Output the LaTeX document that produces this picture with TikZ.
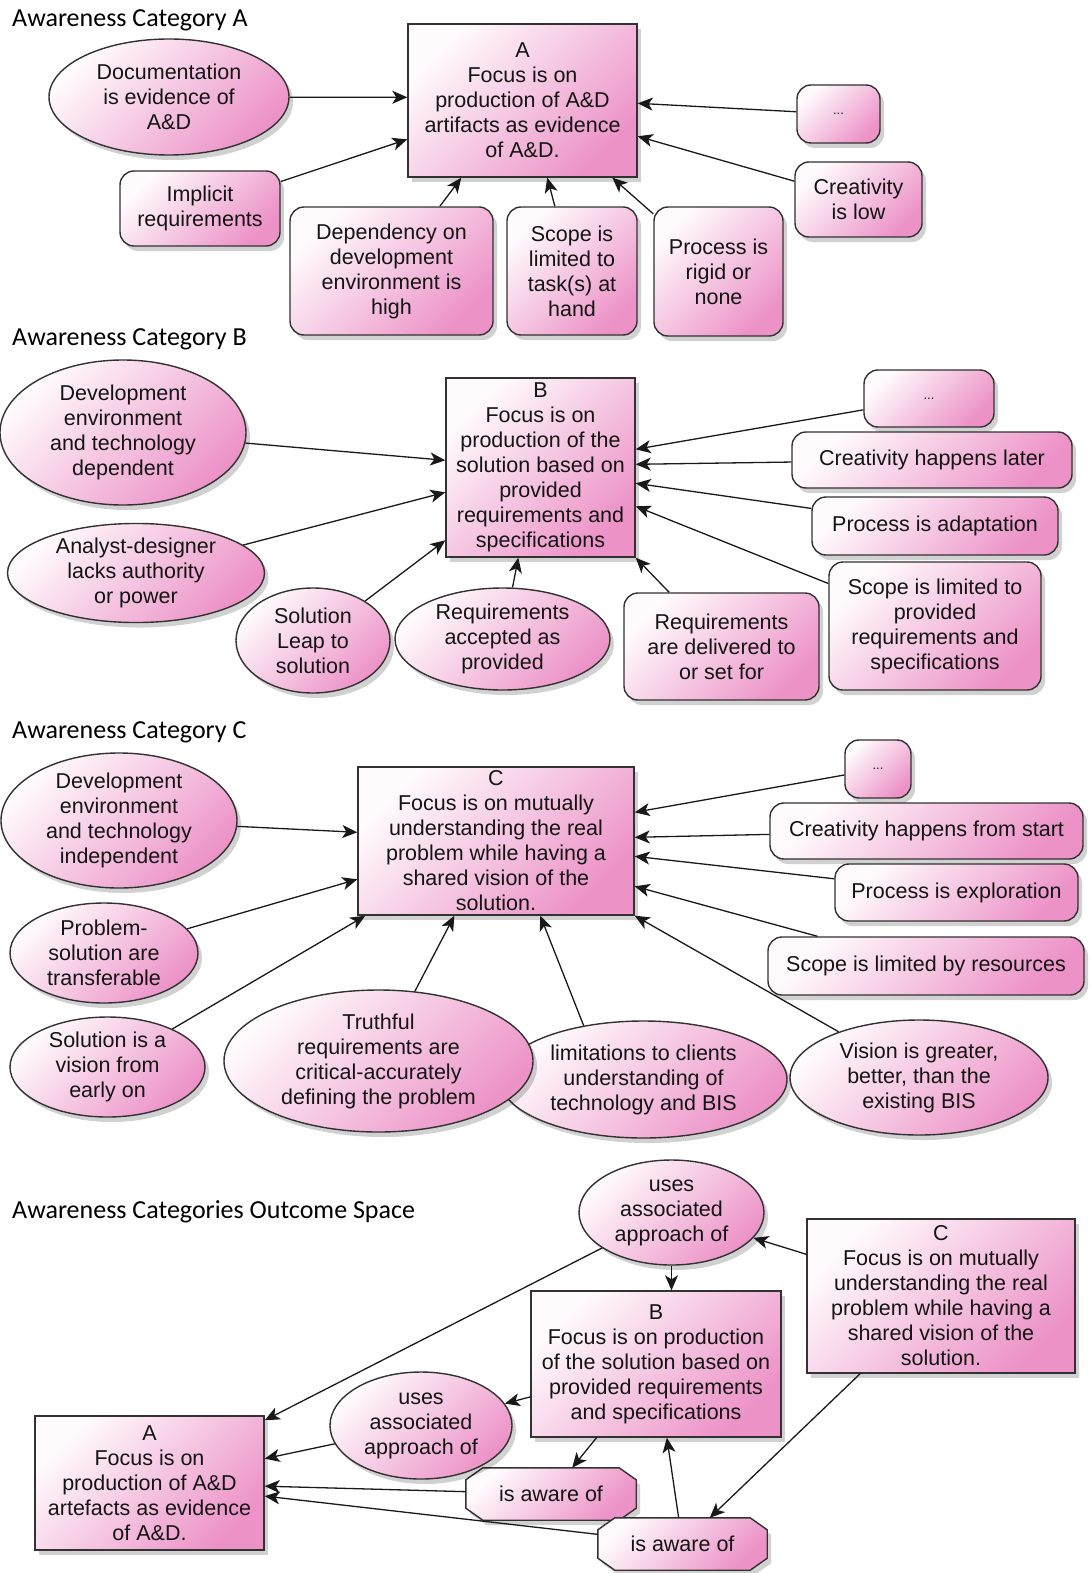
\documentclass[tikz,border=0pt]{standalone}
\usepackage{fontspec}
\setmainfont{Liberation Sans}
\newfontfamily\headfont{Carlito}
\usetikzlibrary{shapes.geometric,arrows.meta,calc,shadows,backgrounds}

\definecolor{pinkD}{RGB}{236,146,199}
\definecolor{pinkL}{RGB}{255,251,253}
\definecolor{edge}{RGB}{50,50,50}
\definecolor{ink}{RGB}{20,20,20}

\newcommand\bodyfont{\fontsize{21.5}{25}\selectfont}
\newcommand\dotfont{\fontsize{13}{15}\selectfont}

\begin{document}
\begin{tikzpicture}[x=1pt,y=-1pt,
  base/.style={draw=edge, line width=1.4pt,
    top color=pinkL, bottom color=pinkD, shading angle=45,
    drop shadow={shadow xshift=4pt, shadow yshift=-5pt, opacity=0.18, fill=black},
    font=\bodyfont, text=ink, align=center, inner sep=0pt},
  box/.style={base, rectangle},
  rbox/.style={base, rectangle, rounded corners=14pt},
  oval/.style={base, ellipse},
  octo/.style={draw=edge, line width=1.4pt,
    top color=pinkL, bottom color=pinkD, shading angle=45,
    drop shadow={shadow xshift=4pt, shadow yshift=-5pt, opacity=0.18, fill=black}},
  octotext/.style={font=\bodyfont, text=ink, inner sep=0pt},
  head/.style={font=\headfont\fontsize{26}{30}\selectfont, text=black, anchor=base west, inner sep=0pt},
  arr/.style={-{Stealth[length=15pt,width=13pt,inset=4pt]}, line width=1.3pt, draw=black!90},
]
\useasboundingbox (0,0) rectangle (1090,1573);

% ---------------- Awareness Category A ----------------
\node[head] (tA) at (12,27) {Awareness Category A};
\node[box, minimum width=229pt, minimum height=153pt] (A) at (522.5,100.5)
  {A\\Focus is on\\production of A\&D\\artifacts as evidence\\of A\&D.};
\node[oval, minimum width=240pt, minimum height=116pt] (doc) at (169,97)
  {Documentation\\is evidence of\\A\&D};
\node[rbox, minimum width=160pt, minimum height=75pt] (impl) at (200,208.5)
  {Implicit\\requirements};
\node[rbox, minimum width=203pt, minimum height=128pt] (dep) at (391.5,271)
  {Dependency on\\development\\environment is\\high};
\node[rbox, minimum width=130pt, minimum height=128pt] (scA) at (572,271)
  {Scope is\\limited to\\task(s) at\\hand};
\node[rbox, minimum width=129pt, minimum height=129pt] (prA) at (718.5,271.5)
  {Process is\\rigid or\\none};
\node[rbox, minimum width=83pt, minimum height=58pt, font=\dotfont] (dtA) at (838.5,114) {...};
\node[rbox, minimum width=127pt, minimum height=75pt] (crA) at (858.5,199.5)
  {Creativity\\is low};

\draw[arr] (doc) -- ($(A.north west)+(0,74)$);
\draw[arr] (impl) -- ($(A.north west)+(0,116)$);
\draw[arr] (dep) -- ($(A.south west)+(54,0)$);
\draw[arr] (scA) -- ($(A.south west)+(140,0)$);
\draw[arr] (prA) -- ($(A.south west)+(205,0)$);
\draw[arr] (dtA) -- ($(A.north east)+(0,80)$);
\draw[arr] (crA) -- ($(A.north east)+(0,113)$);

% ---------------- Awareness Category B ----------------
\node[head] (tB) at (12,345) {Awareness Category B};
\node[box, minimum width=189pt, minimum height=179pt] (B) at (540.5,467.5)
  {B\\Focus is on\\production of the\\solution based on\\provided\\requirements and\\specifications};
\node[oval, minimum width=246pt, minimum height=145pt] (dvd) at (123,432.5)
  {Development\\environment\\and technology\\dependent};
\node[oval, minimum width=257pt, minimum height=98pt] (anl) at (136,573)
  {Analyst-designer\\lacks authority\\or power};
\node[oval, minimum width=154pt, minimum height=105pt] (lep) at (313,640.5)
  {Solution\\Leap to\\solution};
\node[oval, minimum width=215pt, minimum height=102pt] (rqa) at (502.5,639)
  {Requirements\\accepted as\\provided};
\node[rbox, minimum width=195pt, minimum height=107pt] (rqd) at (721.5,646.5)
  {Requirements\\are delivered to\\or set for};
\node[rbox, minimum width=212pt, minimum height=128pt] (scB) at (935,626)
  {Scope is limited to\\provided\\requirements and\\specifications};
\node[rbox, minimum width=130pt, minimum height=57pt, font=\dotfont] (dtB) at (929,398.5) {...};
\node[rbox, minimum width=280pt, minimum height=56pt] (crB) at (932,460)
  {Creativity happens later};
\node[rbox, minimum width=246pt, minimum height=58pt] (prB) at (935,526)
  {Process is adaptation};

\draw[arr] (dvd) -- ($(B.north west)+(0,83)$);
\draw[arr] (anl) -- ($(B.north west)+(0,115)$);
\draw[arr] (lep) -- ($(B.north west)+(0,163)$);
\draw[arr] (rqa) -- ($(B.south west)+(73,0)$);
\draw[arr] (rqd) -- (B.south east);
\draw[arr] (dtB) -- ($(B.north east)+(0,72)$);
\draw[arr] (crB) -- ($(B.north east)+(0,87)$);
\draw[arr] (prB) -- ($(B.north east)+(0,106)$);
\draw[arr] (scB) -- ($(B.north east)+(0,129)$);

% ---------------- Awareness Category C ----------------
\node[head] (tC) at (12,738) {Awareness Category C};
\node[box, minimum width=276pt, minimum height=148pt] (C) at (496,841)
  {C\\Focus is on mutually\\understanding the real\\problem while having a\\shared vision of the\\solution.};
\node[oval, minimum width=236pt, minimum height=135pt] (dvi) at (119,820.5)
  {Development\\environment\\and technology\\independent};
\node[oval, minimum width=188pt, minimum height=100pt] (pst) at (104,953)
  {Problem-\\solution are\\transferable};
\node[oval, minimum width=195pt, minimum height=100pt] (svi) at (107.5,1067)
  {Solution is a\\vision from\\early on};
\node[oval, minimum width=287pt, minimum height=117pt] (lim) at (643.5,1079.5)
  {limitations to clients\\understanding of\\technology and BIS};
\node[oval, minimum width=309pt, minimum height=142pt] (trf) at (378.5,1061)
  {Truthful\\requirements are\\critical-accurately\\defining the problem};
\node[oval, minimum width=258pt, minimum height=115pt] (vis) at (919,1077.5)
  {Vision is greater,\\better, than the\\existing BIS};
\node[rbox, minimum width=66pt, minimum height=58pt, font=\dotfont] (dtC) at (878,769) {...};
\node[rbox, minimum width=313pt, minimum height=56pt] (crC) at (926.5,831)
  {Creativity happens from start};
\node[rbox, minimum width=243pt, minimum height=57pt] (prC) at (956.5,892.5)
  {Process is exploration};
\node[rbox, minimum width=316pt, minimum height=58pt] (scC) at (926,966)
  {Scope is limited by resources};

\draw[arr] (dvi) -- ($(C.north west)+(0,66)$);
\draw[arr] (pst) -- ($(C.north west)+(0,113)$);
\draw[arr] (svi) -- ($(C.south west)+(8,0)$);
\draw[arr] (trf) -- ($(C.south west)+(97,0)$);
\draw[arr] (lim.138) -- ($(C.south west)+(183,0)$);
\draw[arr] (vis) -- (C.south east);
\draw[arr] (dtC) -- ($(C.north east)+(0,46)$);
\draw[arr] (crC) -- ($(C.north east)+(0,71)$);
\draw[arr] (prC) -- ($(C.north east)+(0,90)$);
\draw[arr] (scC) -- ($(C.north east)+(0,120)$);

% ---------------- Outcome space ----------------
\node[head] (tD) at (12,1218) {Awareness Categories Outcome Space};
\node[oval, minimum width=185pt, minimum height=105pt] (usT) at (671.5,1212.5)
  {uses\\associated\\approach of};
\node[box, minimum width=250pt, minimum height=146pt] (B2) at (656,1364)
  {B\\Focus is on production\\of the solution based on\\provided requirements\\and specifications};
\node[box, minimum width=268pt, minimum height=154pt] (C2) at (941,1296)
  {C\\Focus is on mutually\\understanding the real\\problem while having a\\shared vision of the\\solution.};
\node[box, minimum width=229pt, minimum height=134pt] (A2) at (149.5,1483)
  {A\\Focus is on\\production of A\&D\\artefacts as evidence\\of A\&D.};
\node[oval, minimum width=182pt, minimum height=107pt] (usL) at (421,1425.5)
  {uses\\associated\\approach of};
\node[octotext, minimum width=170pt, minimum height=52pt] (aw1) at (551,1494) {is aware of};
\node[octotext, minimum width=169pt, minimum height=52pt] (aw2) at (682.5,1544) {is aware of};

% octagonal outlines for the two "is aware of" nodes, under their text
\begin{pgfonlayer}{background}
  \fill[white] (0,0) rectangle (1090,1573);
  \foreach \n in {aw1,aw2}{
    \path[octo] ($(\n.north west)+(17,0)$) -- ($(\n.north east)+(-17,0)$)
      -- ($(\n.north east)+(0,12)$) -- ($(\n.south east)+(0,-12)$)
      -- ($(\n.south east)+(-17,0)$) -- ($(\n.south west)+(17,0)$)
      -- ($(\n.south west)+(0,-12)$) -- ($(\n.north west)+(0,12)$) -- cycle;
  }
\end{pgfonlayer}

\draw[arr] (C2) -- (usT);
\draw[arr] (usT.south) -- (usT.south |- B2.north);
\draw[arr] (usT) -- ($(A2.north east)+(0,5)$);
\draw[arr] (B2) -- (usL);
\draw[arr] (usL) -- (A2);
\draw[arr] (B2) -- (aw1);
\draw[arr] (aw1) -- (A2);
\draw[arr] (aw2) -- (B2);
\draw[arr] (C2) -- (aw2);
\draw[arr] (aw2) -- (A2);
\end{tikzpicture}
\end{document}
